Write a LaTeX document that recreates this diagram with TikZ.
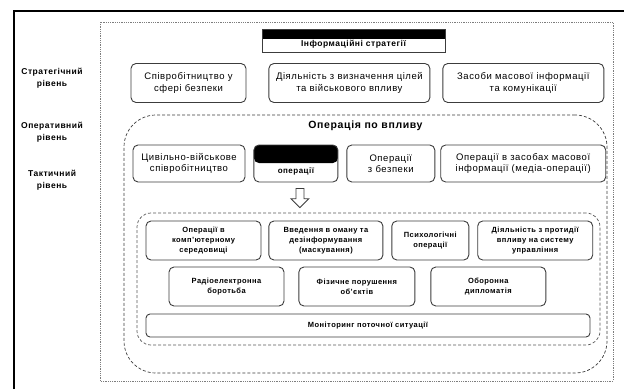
\documentclass[tikz,border=0pt]{standalone}
\usepackage{fontspec}
\setmainfont{Liberation Sans}[LetterSpace=6]
\usetikzlibrary{positioning, calc}
\definecolor{boxline}{RGB}{60,60,60}
\definecolor{dotline}{RGB}{125,125,125}
\tikzset{
    stratbox/.style={rectangle, rounded corners=5pt, draw=boxline, line width=0.9pt, align=center, inner sep=2pt, font=\fontsize{9.5}{11.5}\selectfont},
    tacbox/.style={stratbox, minimum height=39pt, font=\fontsize{7.5}{9.8}\selectfont\bfseries},
    levellabel/.style={align=center, font=\fontsize{8.5}{12}\selectfont\bfseries},
    zone/.style={rectangle, draw=#1, densely dashed, line width=0.7pt},
    blackband/.style={path picture={\fill[black] (path picture bounding box.north west) rectangle ([yshift=-#1]path picture bounding box.north east);}},
}
\begin{document}
\begin{tikzpicture}[x=1pt, y=-1pt]
\useasboundingbox (0,0) rectangle (624,389);

% Frame and strategy area
\draw[line width=1.4pt] (14,389) -- (14,11) -- (624,11);
\draw[dotline, densely dotted, line width=0.8pt] (100,22) rectangle (613,381);

% Level labels
\node[levellabel] (lvl-strat) at (52,78) {Стратегічний\\рівень};
\node[levellabel] (lvl-oper) at (52,132) {Оперативний\\рівень};
\node[levellabel] (lvl-tact) at (52,180) {Тактичний\\рівень};

% Strategic level
\node[rectangle, draw=boxline, line width=0.8pt, minimum width=183pt, minimum height=23pt, blackband=10pt, text height=12pt, text depth=0pt, font=\fontsize{8.5}{10}\selectfont\bfseries] (infostrat) at (353.5,40.5) {Інформаційні стратегії};
\node[stratbox, minimum width=115pt, minimum height=39pt] (coop) at (188.5,83) {Співробітництво у\\сфері безпеки};
\node[stratbox, right=22pt of coop, minimum width=161pt, minimum height=39pt] (target) {Діяльність з визначення цілей\\та військового впливу};
\node[stratbox, right=12pt of target, minimum width=161pt, minimum height=39pt] (media) {Засоби масової інформації\\та комунікації};

% Operational level
\node[zone=boxline, rounded corners=32pt, minimum width=483pt, minimum height=258pt] (opzone) at (365.5,244) {};
\node[below=3pt of opzone.north, font=\fontsize{10.5}{12}\selectfont\bfseries] (optitle) {Операція по впливу};
\node[stratbox, minimum width=112pt, minimum height=37pt] (cimic) at (189,163.5) {Цивільно-військове\\співробітництво};
\node[stratbox, right=8pt of cimic, minimum width=84pt, minimum height=37pt, blackband=18pt, text height=20pt, text depth=0pt, font=\fontsize{8}{10}\selectfont\bfseries] (infoops) {операції};
\node[stratbox, right=8pt of infoops, minimum width=88pt, minimum height=37pt] (secops) {Операції\\з безпеки};
\node[stratbox, right=5pt of secops, minimum width=165pt, minimum height=37pt] (mediaops) {Операції в засобах масової\\інформації (медіа-операції)};

% Tactical level
\node[zone=dotline!70!black, rounded corners=14pt, minimum width=463pt, minimum height=132pt] (taczone) at (368.5,279) {};
\node[tacbox, minimum width=115pt] (cyber) at (203.5,240.5) {Операції в\\комп’ютерному\\середовищі};
\node[tacbox, right=7pt of cyber, minimum width=114pt] (deception) {Введення в оману та\\дезінформування\\(маскування)};
\node[tacbox, right=8pt of deception, minimum width=77pt] (psyops) {Психологічні\\операції};
\node[tacbox, right=8pt of psyops, minimum width=115pt] (counterc2) {Діяльність з протидії\\впливу на систему\\управління};
\node[tacbox, minimum width=115pt] (ew) at (226.5,286.5) {Радіоелектронна\\боротьба};
\node[tacbox, right=14pt of ew, minimum width=116pt] (physical) {Фізичне порушення\\об’єктів};
\node[tacbox, right=15pt of physical, minimum width=115pt] (diplomacy) {Оборонна\\дипломатія};
\node[tacbox, rounded corners=4pt, minimum width=444pt, minimum height=23pt] (monitor) at (368,325.5) {Моніторинг поточної ситуації};

% Hollow arrow
\coordinate (arr-top) at ([xshift=4pt,yshift=-6pt]infoops.south);
\coordinate (arr-tip) at ([yshift=5pt]taczone.north -| arr-top);
\draw[boxline, line width=0.8pt, fill=white] ([xshift=-4pt]arr-top) -- ([xshift=4pt]arr-top) -- ([xshift=4pt,yshift=9pt]arr-tip) -- ([xshift=9pt,yshift=9pt]arr-tip) -- (arr-tip) -- ([xshift=-9pt,yshift=9pt]arr-tip) -- ([xshift=-4pt,yshift=9pt]arr-tip) -- cycle;

\end{tikzpicture}
\end{document}
